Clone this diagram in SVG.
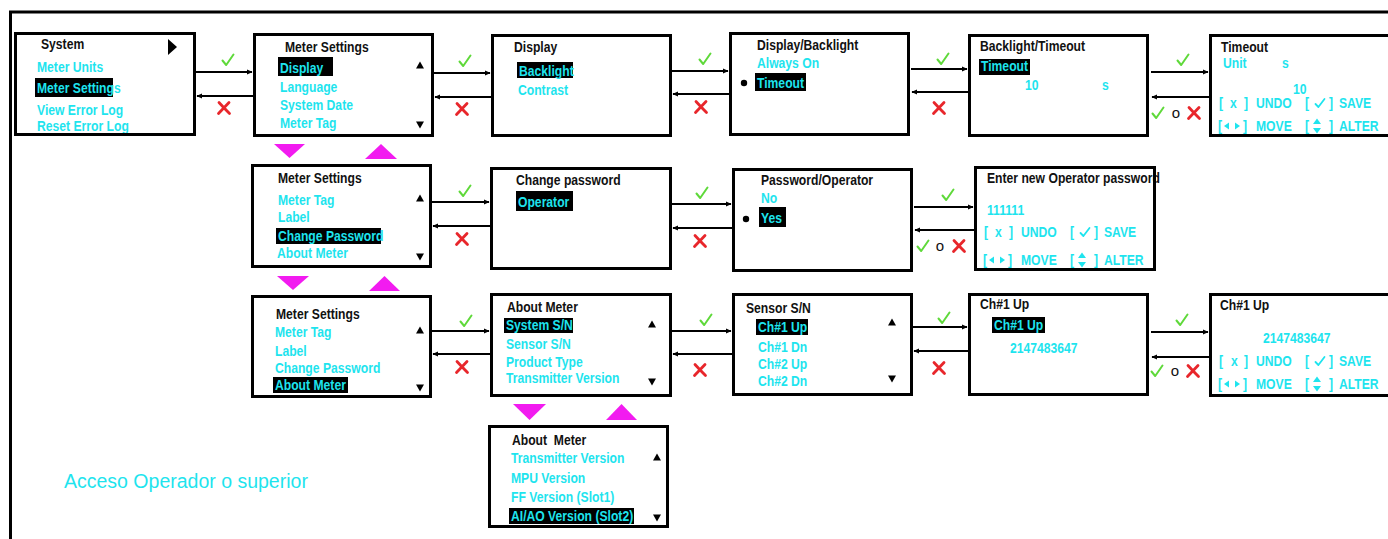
<svg xmlns="http://www.w3.org/2000/svg" width="1388" height="539" viewBox="0 0 1388 539">
<defs>
<style>
.box{fill:none;stroke:#000;stroke-width:3}
.hd,.it{font-family:"Liberation Sans",Arial,sans-serif;font-weight:bold;font-size:14.3px;transform-box:fill-box;transform-origin:0 0;transform:scaleX(0.85)}
.hd{fill:#111}
.it{fill:#1EE4EE}
.hl{fill:#000}
.ln{stroke:#000;stroke-width:2;fill:none}
.nav{fill:#F21BF0}
.scr{fill:#000}
.cy{fill:#1EE4EE}
.or{font-family:"Liberation Sans",sans-serif;font-size:15px;fill:#111}
.note{font-family:"Liberation Sans",sans-serif;font-size:19.5px;fill:#1EE4EE}
</style>
<marker id="ah" viewBox="0 0 10 10" refX="9" refY="5" markerWidth="6" markerHeight="6" orient="auto" markerUnits="userSpaceOnUse">
<path d="M0,0.5 L10,5 L0,9.5 z" fill="#000"/>
</marker>
<path id="ok" d="M-5.5,0.5 L-1.8,5 L5.5,-5.5" fill="none" stroke="#5FD93A" stroke-width="2" stroke-linecap="round" stroke-linejoin="round"/>
<path id="okc" d="M-4.5,1 L-1.6,4 L4.5,-4" fill="none" stroke="#1EE4EE" stroke-width="1.8" stroke-linecap="round" stroke-linejoin="round"/>
<path id="no" d="M-5,-5.5 Q0,0 5.5,5.5 M5,-5.5 L-5.5,5.5" fill="none" stroke="#E8262B" stroke-width="2.8" stroke-linecap="round"/>
<g id="up"><polygon points="-4,3.5 4,3.5 0,-3.5"/></g>
<g id="dn"><polygon points="-4,-3.5 4,-3.5 0,3.5"/></g>
</defs>

<!-- outer frame -->
<path d="M10.5,539 V12 H1388" fill="none" stroke="#000" stroke-width="3"/>

<!-- ===== row 1 ===== -->
<g id="n-system">
<text class="hd" x="41" y="49">System</text>
<polygon points="168,39 177,47 168,55" fill="#000"/>
<text class="it" x="37" y="72">Meter Units</text>
<rect class="hl" x="35" y="78" width="78" height="19"/>
<text class="it" x="37" y="93">Meter Settings</text>
<text class="it" x="37" y="115">View Error Log</text>
<text class="it" x="37" y="131">Reset Error Log</text>
<rect class="box" x="15.5" y="33.5" width="179" height="101"/>
</g>

<g id="n-meter-settings-1">
<text class="hd" x="285" y="52">Meter Settings</text>
<rect class="hl" x="278" y="57" width="55" height="19"/>
<text class="it" x="280" y="73">Display</text>
<text class="it" x="280" y="92">Language</text>
<text class="it" x="280" y="110">System Date</text>
<text class="it" x="280" y="128">Meter Tag</text>
<use href="#up" x="420" y="65" class="scr"/>
<use href="#dn" x="420" y="125" class="scr"/>
<rect class="box" x="254.5" y="34.5" width="178" height="101"/>
</g>

<g id="n-display">
<text class="hd" x="514" y="52">Display</text>
<rect class="hl" x="517" y="62" width="56" height="16"/>
<text class="it" x="519" y="76">Backlight</text>
<text class="it" x="518" y="95">Contrast</text>
<rect class="box" x="492.5" y="35.5" width="178" height="100"/>
</g>

<g id="n-display-backlight">
<text class="hd" x="757" y="50">Display/Backlight</text>
<text class="it" x="757" y="68">Always On</text>
<circle cx="744" cy="83" r="3.2" fill="#000"/>
<rect class="hl" x="755" y="73" width="51" height="18"/>
<text class="it" x="757" y="88">Timeout</text>
<rect class="box" x="730.5" y="33.5" width="178" height="101"/>
</g>

<g id="n-backlight-timeout">
<text class="hd" x="980" y="51">Backlight/Timeout</text>
<rect class="hl" x="979" y="59" width="51" height="16"/>
<text class="it" x="981" y="71">Timeout</text>
<text class="it" x="1025" y="90">10</text>
<text class="it" x="1102" y="90">s</text>
<rect class="box" x="969.5" y="35.5" width="178" height="100"/>
</g>

<g id="n-timeout">
<text class="hd" x="1221" y="52">Timeout</text>
<text class="it" x="1223" y="68">Unit</text>
<text class="it" x="1282" y="68">s</text>
<text class="it" x="1293" y="94">10</text>
<text class="it" x="1219" y="108">[</text>
<text class="it" x="1230" y="108">x</text>
<text class="it" x="1244" y="108">]</text>
<text class="it" x="1256" y="108">UNDO</text>
<text class="it" x="1305" y="108">[</text>
<use href="#okc" x="1320" y="103"/>
<text class="it" x="1329" y="108">]</text>
<text class="it" x="1339" y="108">SAVE</text>
<text class="it" x="1218" y="131">[</text>
<polygon class="cy" points="1224,126 1229,122.5 1229,129.5"/>
<polygon class="cy" points="1240,126 1235,122.5 1235,129.5"/>
<text class="it" x="1243" y="131">]</text>
<text class="it" x="1256" y="131">MOVE</text>
<text class="it" x="1305" y="131">[</text>
<polygon class="cy" points="1313,124 1321,124 1317,118.5"/>
<polygon class="cy" points="1313,128 1321,128 1317,133.5"/>
<text class="it" x="1329" y="131">]</text>
<text class="it" x="1339" y="131">ALTER</text>
<rect class="box" x="1210.5" y="35.5" width="190" height="100"/>
</g>

<!-- ===== row 2 ===== -->
<g id="n-meter-settings-2">
<text class="hd" x="278" y="183">Meter Settings</text>
<text class="it" x="278" y="205">Meter Tag</text>
<text class="it" x="278" y="222">Label</text>
<rect class="hl" x="276" y="228" width="105" height="16"/>
<text class="it" x="278" y="241">Change Password</text>
<text class="it" x="277" y="258">About Meter</text>
<use href="#up" x="420" y="198" class="scr"/>
<use href="#dn" x="420" y="257" class="scr"/>
<rect class="box" x="252.5" y="165.5" width="178" height="101"/>
</g>

<g id="n-change-password">
<text class="hd" x="516" y="185">Change password</text>
<rect class="hl" x="516" y="191" width="57" height="20"/>
<text class="it" x="518" y="207">Operator</text>
<rect class="box" x="491.5" y="168.5" width="179" height="100"/>
</g>

<g id="n-password-operator">
<text class="hd" x="761" y="185">Password/Operator</text>
<text class="it" x="761" y="203">No</text>
<circle cx="746" cy="219" r="3.2" fill="#000"/>
<rect class="hl" x="759" y="207" width="27" height="20"/>
<text class="it" x="761" y="223">Yes</text>
<rect class="box" x="733.5" y="169.5" width="178" height="101"/>
</g>

<g id="n-enter-password">
<text class="hd" x="987" y="183">Enter new Operator password</text>
<text class="it" x="987" y="215">111111</text>
<text class="it" x="984" y="237">[</text>
<text class="it" x="995" y="237">x</text>
<text class="it" x="1009" y="237">]</text>
<text class="it" x="1021" y="237">UNDO</text>
<text class="it" x="1070" y="237">[</text>
<use href="#okc" x="1085" y="232"/>
<text class="it" x="1094" y="237">]</text>
<text class="it" x="1104" y="237">SAVE</text>
<text class="it" x="983" y="265">[</text>
<polygon class="cy" points="989,260 994,256.5 994,263.5"/>
<polygon class="cy" points="1005,260 1000,256.5 1000,263.5"/>
<text class="it" x="1008" y="265">]</text>
<text class="it" x="1021" y="265">MOVE</text>
<text class="it" x="1070" y="265">[</text>
<polygon class="cy" points="1078,258 1086,258 1082,252.5"/>
<polygon class="cy" points="1078,262 1086,262 1082,267.5"/>
<text class="it" x="1094" y="265">]</text>
<text class="it" x="1104" y="265">ALTER</text>
<rect class="box" x="975.5" y="167.5" width="179" height="102"/>
</g>

<!-- ===== row 3 ===== -->
<g id="n-meter-settings-3">
<text class="hd" x="276" y="319">Meter Settings</text>
<text class="it" x="275" y="337">Meter Tag</text>
<text class="it" x="275" y="356">Label</text>
<text class="it" x="275" y="373">Change Password</text>
<rect class="hl" x="273" y="377" width="75" height="16"/>
<text class="it" x="275" y="390">About Meter</text>
<use href="#up" x="420" y="330" class="scr"/>
<use href="#dn" x="420" y="388" class="scr"/>
<rect class="box" x="252.5" y="296.5" width="178" height="100"/>
</g>

<g id="n-about-meter">
<text class="hd" x="507" y="312">About Meter</text>
<rect class="hl" x="504" y="318" width="69" height="15"/>
<text class="it" x="506" y="330">System S/N</text>
<text class="it" x="506" y="349">Sensor S/N</text>
<text class="it" x="506" y="367">Product Type</text>
<text class="it" x="506" y="383">Transmitter Version</text>
<use href="#up" x="652" y="324" class="scr"/>
<use href="#dn" x="652" y="382" class="scr"/>
<rect class="box" x="491.5" y="294.5" width="179" height="101"/>
</g>

<g id="n-sensor-sn">
<text class="hd" x="746" y="313">Sensor S/N</text>
<rect class="hl" x="756" y="319" width="52" height="16"/>
<text class="it" x="758" y="332">Ch#1 Up</text>
<text class="it" x="758" y="352">Ch#1 Dn</text>
<text class="it" x="758" y="369">Ch#2 Up</text>
<text class="it" x="758" y="386">Ch#2 Dn</text>
<use href="#up" x="892" y="322" class="scr"/>
<use href="#dn" x="892" y="379" class="scr"/>
<rect class="box" x="733.5" y="294.5" width="178" height="100"/>
</g>

<g id="n-ch1-up">
<text class="hd" x="980" y="309">Ch#1 Up</text>
<rect class="hl" x="992" y="317" width="53" height="16"/>
<text class="it" x="994" y="330">Ch#1 Up</text>
<text class="it" x="1010" y="353">2147483647</text>
<rect class="box" x="969.5" y="294.5" width="178" height="100"/>
</g>

<g id="n-ch1-up-edit">
<text class="hd" x="1220" y="310">Ch#1 Up</text>
<text class="it" x="1263" y="343">2147483647</text>
<text class="it" x="1219" y="366">[</text>
<text class="it" x="1231" y="366">x</text>
<text class="it" x="1244" y="366">]</text>
<text class="it" x="1256" y="366">UNDO</text>
<text class="it" x="1305" y="366">[</text>
<use href="#okc" x="1320" y="361"/>
<text class="it" x="1329" y="366">]</text>
<text class="it" x="1339" y="366">SAVE</text>
<text class="it" x="1218" y="389">[</text>
<polygon class="cy" points="1224,384 1229,380.5 1229,387.5"/>
<polygon class="cy" points="1240,384 1235,380.5 1235,387.5"/>
<text class="it" x="1243" y="389">]</text>
<text class="it" x="1256" y="389">MOVE</text>
<text class="it" x="1305" y="389">[</text>
<polygon class="cy" points="1313,382 1321,382 1317,376.5"/>
<polygon class="cy" points="1313,386 1321,386 1317,391.5"/>
<text class="it" x="1329" y="389">]</text>
<text class="it" x="1339" y="389">ALTER</text>
<rect class="box" x="1210.5" y="294.5" width="190" height="101"/>
</g>

<!-- ===== row 4 ===== -->
<g id="n-about-meter-2">
<text class="hd" x="512" y="445" xml:space="preserve">About  Meter</text>
<text class="it" x="511" y="463">Transmitter Version</text>
<text class="it" x="511" y="483">MPU Version</text>
<text class="it" x="511" y="502">FF Version (Slot1)</text>
<rect class="hl" x="509" y="508" width="125" height="16"/>
<text class="it" x="511" y="521">AI/AO Version (Slot2)</text>
<use href="#up" x="657" y="457" class="scr"/>
<use href="#dn" x="657" y="518" class="scr"/>
<rect class="box" x="489.5" y="426.5" width="178" height="100"/>
</g>

<text class="note" x="64" y="488">Acceso Operador o superior</text>

<!-- ===== connectors ===== -->
<g id="connectors">
<!-- forward (confirm) and back (cancel) arrows -->
<line class="ln" x1="196" y1="72" x2="252" y2="72" marker-end="url(#ah)"/>
<line class="ln" x1="253" y1="96" x2="197" y2="96" marker-end="url(#ah)"/>
<line class="ln" x1="434" y1="73" x2="490" y2="73" marker-end="url(#ah)"/>
<line class="ln" x1="491" y1="97" x2="435" y2="97" marker-end="url(#ah)"/>
<line class="ln" x1="672" y1="71" x2="728" y2="71" marker-end="url(#ah)"/>
<line class="ln" x1="729" y1="94" x2="673" y2="94" marker-end="url(#ah)"/>
<line class="ln" x1="911" y1="69" x2="967" y2="69" marker-end="url(#ah)"/>
<line class="ln" x1="968" y1="92" x2="912" y2="92" marker-end="url(#ah)"/>
<line class="ln" x1="1151" y1="72" x2="1208" y2="72" marker-end="url(#ah)"/>
<line class="ln" x1="1209" y1="97" x2="1152" y2="97" marker-end="url(#ah)"/>

<line class="ln" x1="432" y1="202" x2="489" y2="202" marker-end="url(#ah)"/>
<line class="ln" x1="490" y1="226" x2="433" y2="226" marker-end="url(#ah)"/>
<line class="ln" x1="672" y1="204" x2="731" y2="204" marker-end="url(#ah)"/>
<line class="ln" x1="732" y1="228" x2="673" y2="228" marker-end="url(#ah)"/>
<line class="ln" x1="914" y1="207" x2="973" y2="207" marker-end="url(#ah)"/>
<line class="ln" x1="974" y1="230" x2="915" y2="230" marker-end="url(#ah)"/>

<line class="ln" x1="432" y1="331" x2="489" y2="331" marker-end="url(#ah)"/>
<line class="ln" x1="490" y1="354" x2="433" y2="354" marker-end="url(#ah)"/>
<line class="ln" x1="672" y1="331" x2="731" y2="331" marker-end="url(#ah)"/>
<line class="ln" x1="732" y1="354" x2="673" y2="354" marker-end="url(#ah)"/>
<line class="ln" x1="913" y1="327" x2="967" y2="327" marker-end="url(#ah)"/>
<line class="ln" x1="968" y1="351" x2="914" y2="351" marker-end="url(#ah)"/>
<line class="ln" x1="1151" y1="332" x2="1208" y2="332" marker-end="url(#ah)"/>
<line class="ln" x1="1209" y1="357" x2="1152" y2="357" marker-end="url(#ah)"/>

<!-- key marks -->
<use href="#ok" x="228" y="60"/><use href="#no" x="224" y="108"/>
<use href="#ok" x="465" y="61"/><use href="#no" x="462" y="109"/>
<use href="#ok" x="705" y="59"/><use href="#no" x="701" y="107"/>
<use href="#ok" x="943" y="59"/><use href="#no" x="939" y="108"/>
<use href="#ok" x="1183" y="60"/>
<use href="#ok" x="1158" y="113"/><text class="or" x="1176" y="118" text-anchor="middle">o</text><use href="#no" x="1194" y="113"/>

<use href="#ok" x="465" y="191"/><use href="#no" x="462" y="239"/>
<use href="#ok" x="702" y="193"/><use href="#no" x="700" y="241"/>
<use href="#ok" x="948" y="195"/>
<use href="#ok" x="923" y="246"/><text class="or" x="940" y="251" text-anchor="middle">o</text><use href="#no" x="959" y="246"/>

<use href="#ok" x="466" y="321"/><use href="#no" x="462" y="367"/>
<use href="#ok" x="706" y="320"/><use href="#no" x="700" y="370"/>
<use href="#ok" x="944" y="318"/><use href="#no" x="939" y="368"/>
<use href="#ok" x="1182" y="320"/>
<use href="#ok" x="1157" y="371"/><text class="or" x="1175" y="376" text-anchor="middle">o</text><use href="#no" x="1193" y="371"/>

<!-- scroll cues between menu pages -->
<polygon class="nav" points="274,144 305,144 289.5,158"/>
<polygon class="nav" points="365,159 397,159 381,144"/>
<polygon class="nav" points="277,276 309,276 293,290"/>
<polygon class="nav" points="369,291 400,291 384.5,276"/>
<polygon class="nav" points="513,404 546,404 529.5,420"/>
<polygon class="nav" points="606,420 637,420 621.5,404"/>
</g>
</svg>
